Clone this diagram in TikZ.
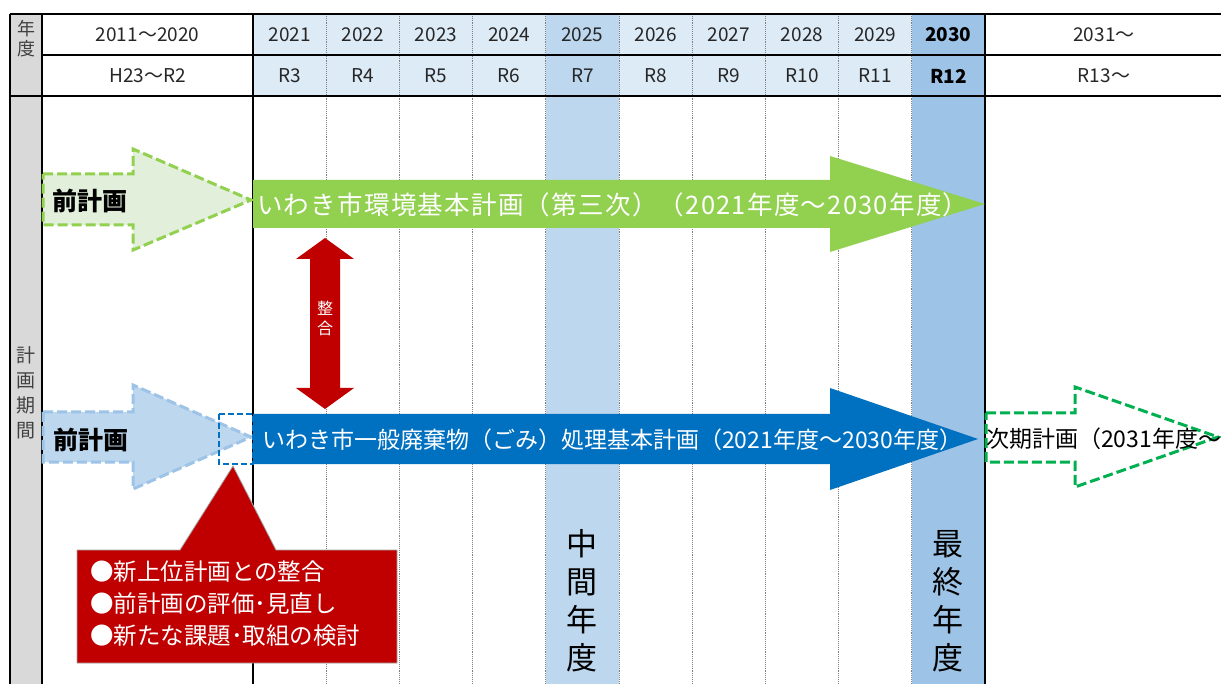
\documentclass[tikz,border=0pt]{standalone}
\usepackage{fontspec}
\setmainfont{Noto Sans CJK JP}
\definecolor{hdrblue}{HTML}{DDEBF7}
\definecolor{midblue}{HTML}{BDD7EE}
\definecolor{lastblue}{HTML}{9DC3E6}
\definecolor{sidegray}{HTML}{D9D9D9}
\definecolor{envgreen}{HTML}{92D050}
\definecolor{palegreen}{HTML}{E2EFDA}
\definecolor{wasteblue}{HTML}{0070C0}
\definecolor{nextgreen}{HTML}{00B050}
\definecolor{alertred}{HTML}{C00000}
\tikzset{
  thickline/.style={black, line width=2.6pt},
  yrline/.style={gray, line width=0.9pt, densely dotted},
  dashedge/.style={line width=3pt, dash pattern=on 10pt off 4pt},
  hdrtext/.style={text=black!85, font=\fontsize{19}{22}\selectfont},
  sidetext/.style={text=black!75, align=center, inner sep=0pt},
  plantext/.style={text=white, anchor=west, inner sep=0pt, font=\fontsize{23}{26}\selectfont},
  yeartext/.style={align=center, inner sep=0pt, font=\fontsize{31}{38}\selectfont}
}
\begin{document}
\begin{tikzpicture}[x=1pt,y=-1pt]
\useasboundingbox (0,0) rectangle (1221,684);
% table fills
\fill[sidegray] (10,14) rectangle (42,684);
\fill[hdrblue] (253,14) rectangle (985,96);
\fill[midblue] (545.8,14) rectangle (619,684);
\fill[lastblue] (911.8,14) rectangle (985,684);
\foreach \i in {1,...,9}{
  \draw[yrline] ({253+73.2*\i},14) -- ({253+73.2*\i},684);
}
% frame
\draw[thickline] (10,14) -- (1221,14) (42,55) -- (1221,55) (10,96) -- (1221,96);
\foreach \x in {10,42,253,985}{
  \draw[thickline] (\x,14) -- (\x,684);
}
% header
\node[sidetext, font=\fontsize{18}{20}\selectfont] (nendo) at (26,39) {年\\度};
\node[hdrtext] (span1) at (147.5,35) {2011～2020};
\node[hdrtext] (span2) at (147.5,76) {H23～R2};
\foreach \yr/\rw [count=\i from 0] in {2021/R3,2022/R4,2023/R5,2024/R6,2025/R7,2026/R8,2027/R9,2028/R10,2029/R11}{
  \node[hdrtext] (y\yr) at ({289.6+73.2*\i},35) {\yr};
  \node[hdrtext] (r\yr) at ({289.6+73.2*\i},76) {\rw};
}
\node[hdrtext, font=\fontsize{19}{22}\selectfont\bfseries, text=black] (y2030) at (948.4,35) {2030};
\node[hdrtext, font=\fontsize{19}{22}\selectfont\bfseries, text=black] (r2030) at (948.4,76) {R12};
\node[hdrtext] (y2031) at (1104,35) {2031～};
\node[hdrtext] (r2031) at (1104,76) {R13～};
\node[sidetext, font=\fontsize{19}{25}\selectfont] (kikan) at (26,393) {計\\画\\期\\間};
% environment plans
\draw[dashedge, draw=envgreen, fill=palegreen] (43,174) -- (133,174) -- (133,149) -- (251,200) -- (133,250) -- (133,225) -- (43,225) -- cycle;
\node[plantext, text=black, font=\fontsize{25}{28}\selectfont\bfseries] (prevenv) at (52,201) {前計画};
\fill[envgreen] (253,180) -- (830,180) -- (830,156) -- (985,204) -- (830,252) -- (830,228) -- (253,228) -- cycle;
\node[plantext, font=\fontsize{25.5}{28}\selectfont\addfontfeature{LetterSpace=5}] (envplan) at (257,205) {いわき市環境基本計画（第三次）（2021年度～2030年度）};
% waste plans
\draw[dashedge, draw=lastblue, fill=midblue] (43,412) -- (133,412) -- (133,385) -- (251,437) -- (133,489) -- (133,462) -- (43,462) -- cycle;
\node[plantext, text=black, font=\fontsize{25}{28}\selectfont\bfseries] (prevwaste) at (53,440) {前計画};
\draw[line width=2.2pt, dash pattern=on 6pt off 3pt, draw=wasteblue] (219,414) rectangle (253,464);
\fill[wasteblue] (253,414) -- (830,414) -- (830,388) -- (978,439) -- (830,490) -- (830,464) -- (253,464) -- cycle;
\node[plantext] (wasteplan) at (262,440) {いわき市一般廃棄物（ごみ）処理基本計画（2021年度～2030年度）};
% alignment arrow
\fill[alertred] (325,238) -- (354,259) -- (340,259) -- (340,388) -- (354,388) -- (325,409) -- (296,388) -- (310,388) -- (310,259) -- (296,259) -- cycle;
\node[sidetext, text=white, font=\fontsize{16}{20}\selectfont] (seigo) at (325,318) {整\\合};
% callout
\filldraw[fill=alertred, draw=gray!70, line width=0.8pt] (77,550) -- (180,550) -- (233,466) -- (276,550) -- (397,550) -- (397,663) -- (77,663) -- cycle;
\node[plantext, anchor=north west, align=left, font=\fontsize{23.5}{32}\selectfont] (review) at (90,561) {●新上位計画との整合\\●前計画の評価･見直し\\●新たな課題･取組の検討};
% next plan
\draw[dashedge, draw=nextgreen, fill=white] (986,413) -- (1075,413) -- (1075,387) -- (1218,437) -- (1075,487) -- (1075,462) -- (986,462) -- cycle;
\node[plantext, text=black] (nextplan) at (986,439) {次期計画（2031年度～）};
% milestone years
\node[yeartext] (midyear) at (582,601) {中\\間\\年\\度};
\node[yeartext] (finalyear) at (948,601) {最\\終\\年\\度};
\end{tikzpicture}
\end{document}
